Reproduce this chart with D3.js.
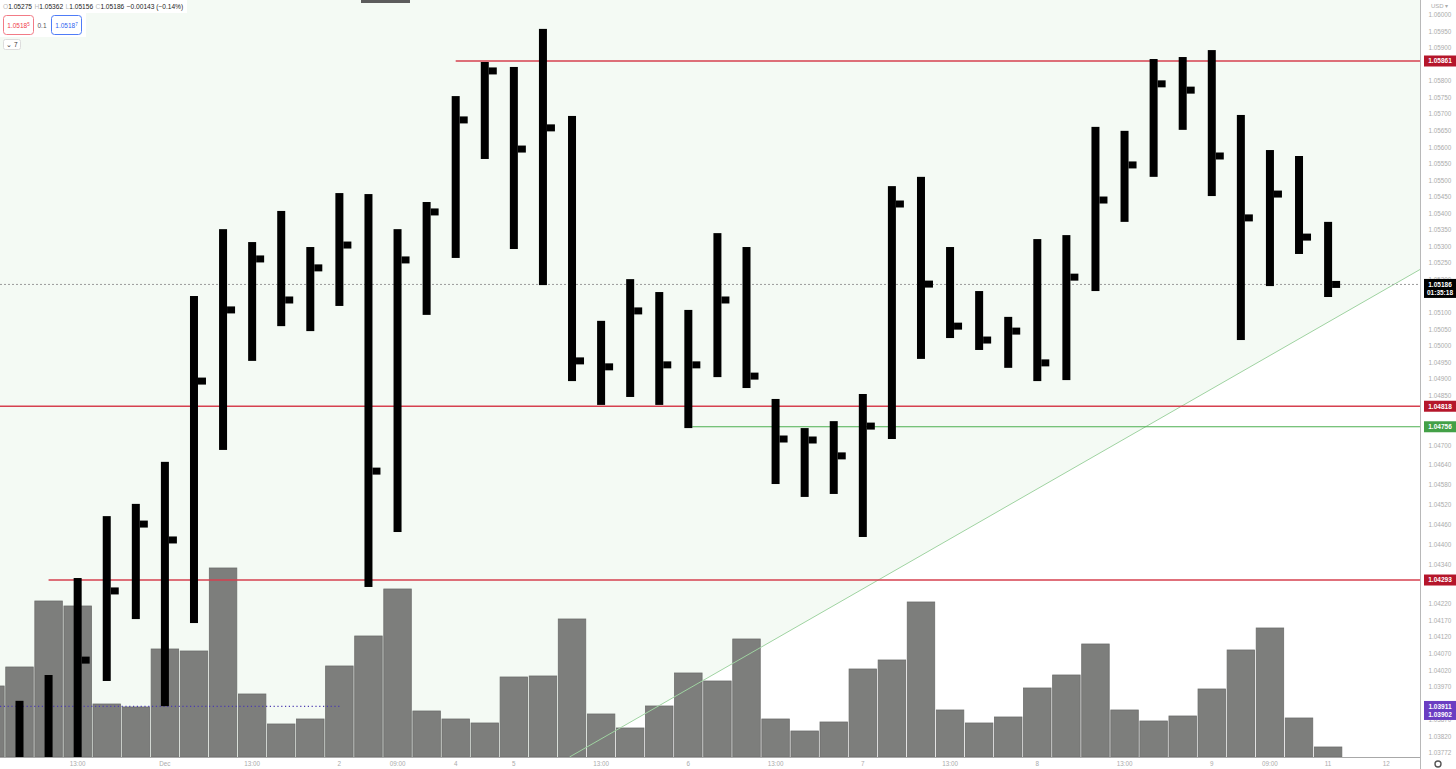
<!DOCTYPE html>
<html><head><meta charset="utf-8">
<script src="https://cdn.jsdelivr.net/npm/d3@7"></script>
<style>
html,body{margin:0;padding:0;background:#fff;overflow:hidden}
svg{display:block;font-family:"Liberation Sans",Arial,sans-serif}
</style></head><body>
<svg id="chart" width="1456" height="769"></svg>
<script>
// ---- DATA ----
// bar slot indices (-1 is the partially visible slot at the left edge)
const barIdx = [-1,0,1,2,3,4,5,6,7,8,9,10,11,12,13,14,15,16,17,18,19,20,21,22,23,24,25,26,27,28,29,30,31,32,33,34,35,36,37,38,39,40,41,42,43,44,45];
const highs  = [null,1.03928,1.04006,1.04299,1.04486,1.04523,1.04650,1.05151,1.05353,1.05314,1.05408,1.05299,1.05462,1.05459,1.05353,1.05435,1.05755,1.05858,1.05843,1.05958,1.05695,1.05076,1.05202,1.05163,1.05109,1.05341,1.05299,1.04840,1.04752,1.04773,1.04855,1.05483,1.05511,1.05299,1.05166,1.05088,1.05323,1.05335,1.05662,1.05650,1.05867,1.05873,1.05894,1.05698,1.05592,1.05574,1.05375];
const lows   = [null,1.03700,1.03700,1.03700,1.03988,1.04175,1.03912,1.04163,1.04686,1.04955,1.05060,1.05045,1.05121,1.04272,1.04438,1.05094,1.05266,1.05565,1.05293,1.05184,1.04894,1.04822,1.04846,1.04822,1.04752,1.04906,1.04873,1.04583,1.04544,1.04553,1.04423,1.04719,1.04961,1.05024,1.04988,1.04934,1.04894,1.04897,1.05166,1.05375,1.05511,1.05653,1.05453,1.05018,1.05181,1.05278,1.05148];
const closes = [null,null,null,1.04051,1.04260,1.04462,1.04414,1.04894,1.05109,1.05263,1.05139,1.05236,1.05305,1.04622,1.05260,1.05405,1.05683,1.05831,1.05595,1.05659,1.04955,1.04937,1.05106,1.04943,1.04943,1.05139,1.04909,1.04719,1.04716,1.04668,1.04758,1.05429,1.05187,1.05060,1.05018,1.05045,1.04949,1.05208,1.05441,1.05547,1.05792,1.05773,1.05574,1.05387,1.05459,1.05329,1.05186];
const volumes = [71,90,156,151,53,50,108,106,189,63,33,38,91,121,168,46,38,34,80,81,138,43,29,51,84,76,118,38,26,35,88,97,155,47,34,40,69,82,113,47,36,41,68,107,129,39,10];

const priceTicks = ["1.06000","1.05950","1.05900","1.05800","1.05750","1.05700","1.05650","1.05600","1.05550","1.05500","1.05450","1.05400","1.05350","1.05300","1.05250","1.05200","1.05100","1.05050","1.05000","1.04950","1.04900","1.04850","1.04700","1.04640","1.04580","1.04520","1.04460","1.04400","1.04340","1.04220","1.04170","1.04120","1.04070","1.04020","1.03970","1.03870","1.03820","1.03772"];
const timeTickIdx = [2,5,8,11,13,15,17,20,23,26,29,32,35,38,41,43,45,47];
const timeTickLabels = ["13:00","Dec","13:00","2","09:00","4","5","13:00","6","13:00","7","13:00","8","13:00","9","09:00","11","12"];

const redLevels = [1.05861, 1.04818, 1.04293];
const redLevelStart = [15, -1, 1];
const greenLevel = 1.04756, greenLevelStart = 23;
const lastPrice = 1.05186, lastPriceTimer = "01:35:18";
const purpleLevels = [1.03911, 1.03902], purpleLineEnd = 11;
const trendPts = [{i:20, p:1.03813}, {i:45, p:1.05072}];

// ---- LAYOUT ----
const W = 1456, H = 769, plotR = 1420, plotB = 757;
const svg = d3.select("#chart");
const x = d3.scaleLinear().domain([0,45]).range([19.5,1328.1]);
const slot = x(1)-x(0);
const y = d3.scaleLinear().domain([1.037583,1.060453]).range([plotB,0]);
const yv = d3.scaleLinear().domain([0,200]).range([plotB,plotB-200]);

svg.append("rect").attr("width",W).attr("height",H).attr("fill","#fff");
svg.append("defs").append("clipPath").attr("id","pc").append("rect").attr("width",plotR).attr("height",plotB);
const g = svg.append("g").attr("clip-path","url(#pc)");

// trend line geometry in pixels
const tx1 = x(trendPts[0].i), ty1 = y(trendPts[0].p), tx2 = x(trendPts[1].i), ty2 = y(trendPts[1].p);
const slope = (ty2-ty1)/(tx2-tx1);
const yAtR = ty1 + slope*(plotR-tx1);
const xAtB = tx1 + (plotB-ty1)/slope;
g.append("path").attr("d", d3.line()([[0,0],[plotR,0],[plotR,yAtR],[xAtB,plotB],[0,plotB]])).attr("fill","#f4faf4");

// volume bars
g.selectAll("rect.vol").data(barIdx).join("rect").attr("class","vol")
  .attr("x", i => x(i)-slot/2+0.8).attr("width", slot-1.6)
  .attr("y", (i,k) => yv(volumes[k])).attr("height", (i,k) => plotB-yv(volumes[k]))
  .attr("fill","#7d7e7c").attr("stroke","#6c6d6b").attr("stroke-width",0.8);

// trend line
g.append("line").attr("x1",xAtB).attr("y1",plotB).attr("x2",plotR).attr("y2",yAtR)
  .attr("stroke","#9fd3a1").attr("stroke-width",1);

// level lines
redLevels.forEach((p,k)=>{
  g.append("line").attr("x1",x(redLevelStart[k])).attr("x2",plotR).attr("y1",y(p)).attr("y2",y(p))
   .attr("stroke","#d6404f").attr("stroke-width",1.6);
});
g.append("line").attr("x1",x(greenLevelStart)+4).attr("x2",plotR).attr("y1",y(greenLevel)).attr("y2",y(greenLevel))
  .attr("stroke","#4caf50").attr("stroke-width",1.2);
g.append("line").attr("x1",0).attr("x2",plotR).attr("y1",y(lastPrice)).attr("y2",y(lastPrice))
  .attr("stroke","#9a9a9a").attr("stroke-width",1).attr("stroke-dasharray","2,2");
g.append("line").attr("x1",0).attr("x2",x(purpleLineEnd)).attr("y1",y(purpleLevels[0])).attr("y2",y(purpleLevels[0]))
  .attr("stroke","#4b3bb0").attr("stroke-width",1.2).attr("stroke-dasharray","1.2,2.6");

// price bars
const bars = barIdx.map((i,k)=>({i, h:highs[k], l:lows[k], c:closes[k]})).filter(d=>d.h!==null);
g.selectAll("rect.body").data(bars).join("rect").attr("class","body")
  .attr("x", d=>x(d.i)-4).attr("width",8)
  .attr("y", d=>y(d.h)).attr("height", d=>y(d.l)-y(d.h)).attr("fill","#000");
g.selectAll("rect.cl").data(bars.filter(d=>d.c!==null)).join("rect").attr("class","cl")
  .attr("x", d=>x(d.i)+4).attr("width",8)
  .attr("y", d=>y(d.c)-3.5).attr("height",7).attr("fill","#000");

// axes
svg.append("line").attr("x1",plotR+0.5).attr("x2",plotR+0.5).attr("y1",0).attr("y2",H).attr("stroke","#b8b8b8");
svg.append("line").attr("x1",0).attr("x2",plotR).attr("y1",plotB+0.5).attr("y2",plotB+0.5).attr("stroke","#a8a8a8");
svg.append("g").selectAll("text").data(priceTicks).join("text")
  .attr("x",1440).attr("y",d=>y(+d)).attr("dy","0.35em").attr("text-anchor","middle")
  .attr("font-size",6.3).attr("fill","#ababab").text(d=>d);
svg.append("text").attr("x",1431).attr("y",6).attr("dy","0.35em").attr("font-size",6).attr("fill","#ababab").text("USD ▾");
svg.append("g").selectAll("text").data(timeTickIdx).join("text")
  .attr("x",i=>x(i)).attr("y",764).attr("dy","0.35em").attr("text-anchor","middle")
  .attr("font-size",6.3).attr("fill","#ababab").text((i,k)=>timeTickLabels[k]);

// badges
function badge(p, lines, fill){
  const h = lines.length*8+3, yc = y(p);
  svg.append("rect").attr("x",1424).attr("y",yc-5.5).attr("width",32).attr("height",h).attr("fill",fill);
  lines.forEach((t,k)=>svg.append("text").attr("x",1440).attr("y",yc+k*8).attr("dy","0.35em")
    .attr("text-anchor","middle").attr("font-size",6.5).attr("font-weight","bold").attr("fill","#fff").text(t));
}
badge(redLevels[0],["1.05861"],"#b5162b");
badge(redLevels[1],["1.04818"],"#b5162b");
badge(redLevels[2],["1.04293"],"#b5162b");
badge(greenLevel,["1.04756"],"#43a047");
badge(lastPrice,["1.05186",lastPriceTimer],"#000");
badge(purpleLevels[0],["1.03911","1.03902"],"#6a3dc2");
// gear
svg.append("circle").attr("cx",1438).attr("cy",764).attr("r",3).attr("fill","none").attr("stroke","#555").attr("stroke-width",1.4);

// top toolbar fragment
svg.append("rect").attr("x",361).attr("y",0).attr("width",49).attr("height",3).attr("fill","#5c5c5c");

// legend
const leg = svg.append("g");
leg.append("rect").attr("x",0).attr("y",0).attr("width",187).attr("height",13).attr("fill","#fff");
const lt = leg.append("text").attr("x",3).attr("y",7).attr("dy","0.35em").attr("font-size",6.6).attr("fill","#222");
[["O","1.05275"],["H","1.05362"],["L","1.05156"],["C","1.05186"]].forEach(([a,b],k)=>{
  lt.append("tspan").attr("fill","#bbb").attr("dx",k?2.5:0).text(a);
  lt.append("tspan").attr("fill","#222").text(b);
});
lt.append("tspan").attr("dx",2.5).attr("fill","#222").text("−0.00143 (−0.14%)");
leg.append("rect").attr("x",0).attr("y",13).attr("width",86).attr("height",24).attr("fill","#fff");
leg.append("rect").attr("x",3.5).attr("y",15.5).attr("width",30).attr("height",19).attr("rx",3).attr("fill","#fff").attr("stroke","#f27b86");
leg.append("text").attr("x",18.5).attr("y",26).attr("dy","0.35em").attr("text-anchor","middle").attr("font-size",6.5).attr("fill","#ef3b4c")
  .text("1.0518").append("tspan").attr("dy","-2").attr("font-size",4.5).text("5");
leg.append("text").attr("x",42).attr("y",26).attr("dy","0.35em").attr("text-anchor","middle").attr("font-size",6.5).attr("fill","#555").text("0.1");
leg.append("rect").attr("x",51.5).attr("y",15.5).attr("width",30).attr("height",19).attr("rx",3).attr("fill","#fff").attr("stroke","#4f7cf7");
leg.append("text").attr("x",66.5).attr("y",26).attr("dy","0.35em").attr("text-anchor","middle").attr("font-size",6.5).attr("fill","#2f5ff0")
  .text("1.0518").append("tspan").attr("dy","-2").attr("font-size",4.5).text("7");
leg.append("rect").attr("x",3.5).attr("y",39.5).attr("width",17).attr("height",10).attr("rx",2).attr("fill","#fff").attr("stroke","#ddd");
leg.append("text").attr("x",12).attr("y",44.5).attr("dy","0.35em").attr("text-anchor","middle").attr("font-size",6.5).attr("fill","#333").text("⌄ 7");
</script></body></html>
